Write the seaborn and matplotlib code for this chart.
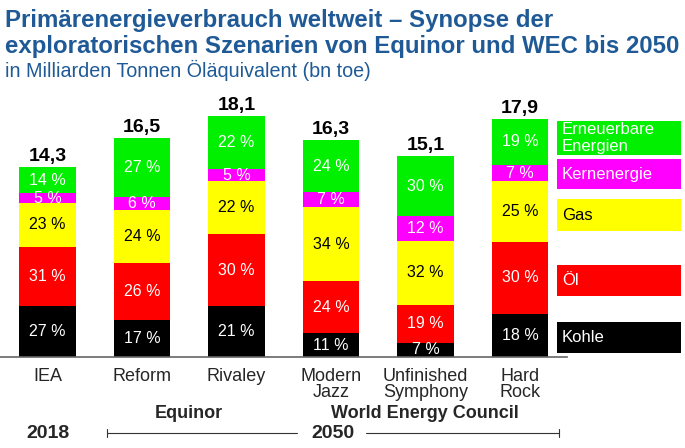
import matplotlib
matplotlib.use("Agg")
import matplotlib.pyplot as plt
import seaborn as sns
import pandas as pd
import numpy as np
from matplotlib.patches import Rectangle

sns.set_theme(style="white")
plt.rcParams['font.family'] = ['Liberation Sans', 'DejaVu Sans']

scenarios = ["IEA", "Reform", "Rivaley", "Modern\nJazz", "Unfinished\nSymphony", "Hard\nRock"]
totals = [14.3, 16.5, 18.1, 16.3, 15.1, 17.9]
sources = ["Kohle", "Öl", "Gas", "Kernenergie", "Erneuerbare\nEnergien"]
kohle = [27, 17, 21, 11, 7, 18]
oel = [31, 26, 30, 24, 19, 30]
gas = [23, 24, 22, 34, 32, 25]
kern = [5, 6, 5, 7, 12, 7]
erneuerbar = [14, 27, 22, 24, 30, 19]
colors = ["#000000", "#ff0000", "#ffff00", "#ff00ff", "#00f000"]
text_colors = ["white", "white", "black", "white", "white"]
groups = ["Equinor", "World Energy Council"]
years = ["2018", "2050"]

shares = [kohle, oel, gas, kern, erneuerbar]
tot = np.array(totals)
share_arr = np.array(shares, dtype=float)
abs_vals = share_arr / share_arr.sum(axis=0) * tot
cum = np.cumsum(abs_vals, axis=0)

W, H = 685, 448
fig = plt.figure(figsize=(W / 100, H / 100), dpi=100)
base_px = 357
top_px = 95
ppu = 13.3
ax = fig.add_axes([0, (H - base_px) / H, 567 / W, (base_px - top_px) / H])
ax.patch.set_alpha(0)

df = pd.DataFrame({"scenario": scenarios})
for i in range(len(sources) - 1, -1, -1):
    df["val"] = cum[i]
    sns.barplot(data=df, x="scenario", y="val", color=colors[i], width=0.6,
                saturation=1, ax=ax, linewidth=0, order=scenarios)

spacing = 94.5
ax.set_xlim(-47.5 / spacing, (567 - 47.5) / spacing)
ax.set_ylim(0, (base_px - top_px) / ppu)

for j in range(len(scenarios)):
    for i in range(len(sources)):
        bottom = cum[i][j] - abs_vals[i][j]
        ax.text(j, bottom + abs_vals[i][j] / 2, f"{int(shares[i][j])} %",
                ha="center", va="center", color=text_colors[i], fontsize=11.5)
    ax.text(j, tot[j] + 0.15, f"{totals[j]:.1f}".replace(".", ","), ha="center",
            va="bottom", fontsize=14, fontweight="bold", color="black")

for s in ["top", "right", "left"]:
    ax.spines[s].set_visible(False)
ax.spines["bottom"].set_color("#666666")
ax.spines["bottom"].set_linewidth(1.2)
ax.set_yticks([])
ax.set_xlabel("")
ax.set_ylabel("")
ax.tick_params(axis="x", length=0, labelsize=13, pad=8)
for lab in ax.get_xticklabels():
    lab.set_linespacing(0.95)

ov = fig.add_axes([0, 0, 1, 1], zorder=5)
ov.set_xlim(0, W)
ov.set_ylim(H, 0)
ov.axis("off")
ov.patch.set_alpha(0)

blue = "#1f5a96"
fig.text(5 / W, 1 - 20 / H, "Primärenergieverbrauch weltweit – Synopse der",
         color=blue, fontsize=17.3, fontweight="bold", va="center", ha="left")
fig.text(5 / W, 1 - 46 / H, "exploratorischen Szenarien von Equinor und WEC bis 2050",
         color=blue, fontsize=17.3, fontweight="bold", va="center", ha="left")
fig.text(5 / W, 1 - 70 / H, "in Milliarden Tonnen Öläquivalent (bn toe)",
         color=blue, fontsize=14.2, va="center", ha="left")

leg_boxes = [(322, 353), (265, 296), (199, 231), (159, 189), (121, 155)]
for i in range(len(sources)):
    y0, y1 = leg_boxes[i]
    ov.add_patch(Rectangle((557, y0), 124, y1 - y0, color=colors[i], lw=0))
    ov.text(562, (y0 + y1) / 2, sources[i], color=text_colors[i],
            fontsize=12, va="center", ha="left", linespacing=1.1)

ov.text(189, 414, groups[0], ha="center", va="center", fontsize=13, fontweight="bold")
ov.text(425, 414, groups[1], ha="center", va="center", fontsize=13, fontweight="bold")
ov.text(48, 434, years[0], ha="center", va="center", fontsize=14, fontweight="bold")
ov.text(333, 434, years[1], ha="center", va="center", fontsize=14, fontweight="bold")
ov.plot([107, 297], [433, 433], color="#333333", lw=0.8)
ov.plot([366, 559], [433, 433], color="#333333", lw=0.8)
ov.plot([107, 107], [429, 437], color="#333333", lw=0.8)
ov.plot([559, 559], [429, 437], color="#333333", lw=0.8)

fig.savefig("out.png", dpi=100)
